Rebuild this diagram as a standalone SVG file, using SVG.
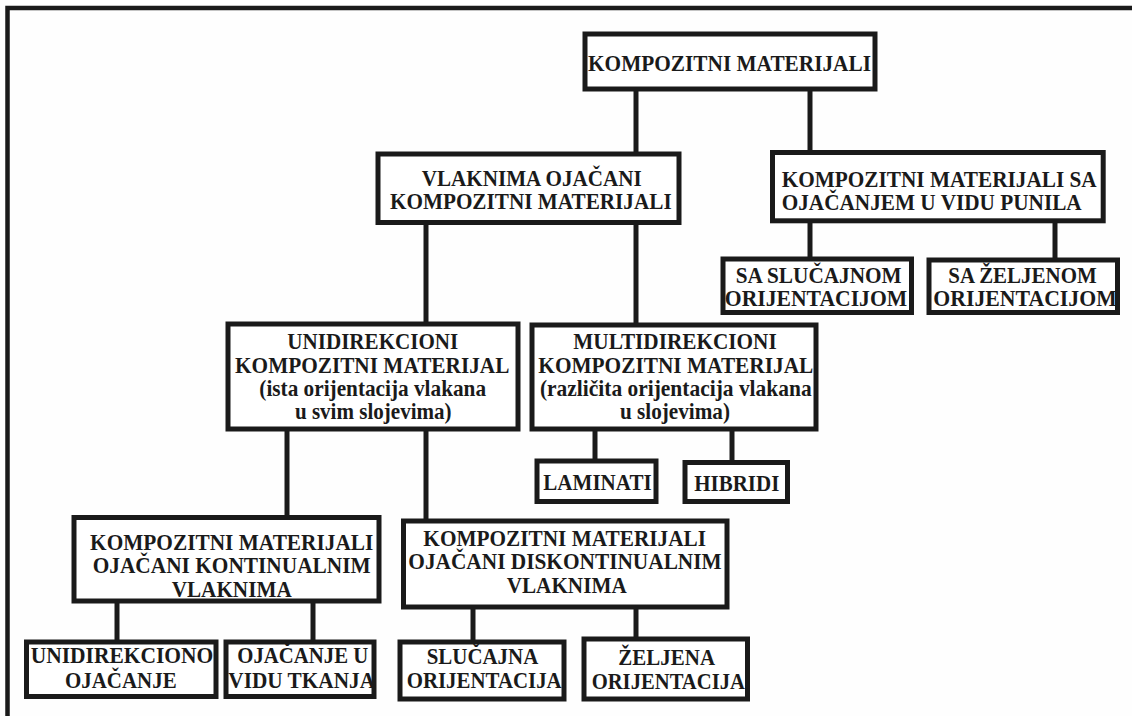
<svg xmlns="http://www.w3.org/2000/svg" width="1132" height="716" viewBox="0 0 1132 716">
<style>
.box{fill:#ffffff;stroke:#1a1a1a;stroke-width:5}
.con line{stroke:#1a1a1a;stroke-width:5}
text{font-family:"Liberation Serif","Times New Roman",serif;font-weight:bold;font-size:22.5px;fill:#1a1a1a;text-anchor:middle}
.l{text-anchor:start}
</style>
<rect x="0" y="0" width="1132" height="716" fill="#fefefe"/>
<path d="M7.5,716 V8 H1132" fill="none" stroke="#1a1a1a" stroke-width="4.5"/>
<g class="con">
<line x1="636" y1="91" x2="636" y2="153"/>
<line x1="810" y1="91" x2="810" y2="151"/>
<line x1="810" y1="222" x2="810" y2="258"/>
<line x1="1055" y1="222" x2="1055" y2="258"/>
<line x1="426" y1="224" x2="426" y2="323"/>
<line x1="636" y1="224" x2="636" y2="324"/>
<line x1="595" y1="430" x2="595" y2="460"/>
<line x1="732" y1="430" x2="732" y2="461"/>
<line x1="287" y1="430" x2="287" y2="516"/>
<line x1="426" y1="430" x2="426" y2="519"/>
<line x1="117" y1="602" x2="117" y2="640"/>
<line x1="313" y1="602" x2="313" y2="640"/>
<line x1="473" y1="608" x2="473" y2="640"/>
<line x1="636" y1="608" x2="636" y2="638"/>
</g>
<g id="n1">
<rect class="box" x="585" y="34" width="290" height="55"/>
<text x="729.5" y="71" textLength="283" lengthAdjust="spacingAndGlyphs">KOMPOZITNI MATERIJALI</text>
</g>
<g id="n2">
<rect class="box" x="378" y="154" width="301" height="68.5"/>
<text x="531.7" y="185.5" textLength="220" lengthAdjust="spacingAndGlyphs">VLAKNIMA OJAČANI</text>
<text x="530.8" y="208.8" textLength="281.7" lengthAdjust="spacingAndGlyphs">KOMPOZITNI MATERIJALI</text>
</g>
<g id="n3">
<rect class="box" x="772.5" y="152.5" width="330.7" height="68.3"/>
<text class="l" x="781.7" y="186.5" textLength="315" lengthAdjust="spacingAndGlyphs">KOMPOZITNI MATERIJALI SA</text>
<text class="l" x="781.7" y="209.8" textLength="300" lengthAdjust="spacingAndGlyphs">OJAČANJEM U VIDU PUNILA</text>
</g>
<g id="n3a">
<rect class="box" x="723" y="259" width="188.5" height="53.5"/>
<text x="818.7" y="283" textLength="166" lengthAdjust="spacingAndGlyphs">SA SLUČAJNOM</text>
<text x="816" y="306.3" textLength="182.4" lengthAdjust="spacingAndGlyphs">ORIJENTACIJOM</text>
</g>
<g id="n3b">
<rect class="box" x="929" y="260" width="188.5" height="52.5"/>
<text x="1022.5" y="283" textLength="148.4" lengthAdjust="spacingAndGlyphs">SA ŽELJENOM</text>
<text x="1025" y="306.3" textLength="183.4" lengthAdjust="spacingAndGlyphs">ORIJENTACIJOM</text>
</g>
<g id="n4">
<rect class="box" x="228" y="324" width="290" height="105"/>
<text x="372.8" y="349.3" textLength="171" lengthAdjust="spacingAndGlyphs">UNIDIREKCIONI</text>
<text x="372.2" y="372.7" textLength="274.3" lengthAdjust="spacingAndGlyphs">KOMPOZITNI MATERIJAL</text>
<text x="372.7" y="396" textLength="226.7" lengthAdjust="spacingAndGlyphs">(ista orijentacija vlakana</text>
<text x="373.3" y="419.3" textLength="156.7" lengthAdjust="spacingAndGlyphs">u svim slojevima)</text>
</g>
<g id="n5">
<rect class="box" x="532" y="325" width="284" height="104"/>
<text x="675" y="349.3" textLength="203.4" lengthAdjust="spacingAndGlyphs">MULTIDIREKCIONI</text>
<text x="675.8" y="372.7" textLength="275" lengthAdjust="spacingAndGlyphs">KOMPOZITNI MATERIJAL</text>
<text x="675.8" y="396" textLength="271.7" lengthAdjust="spacingAndGlyphs">(različita orijentacija vlakana</text>
<text x="675" y="419.3" textLength="110" lengthAdjust="spacingAndGlyphs">u slojevima)</text>
</g>
<g id="n6">
<rect class="box" x="537" y="461" width="119" height="40.5"/>
<text x="597.5" y="490" textLength="108.4" lengthAdjust="spacingAndGlyphs">LAMINATI</text>
</g>
<g id="n7">
<rect class="box" x="685" y="462.5" width="102.5" height="39"/>
<text x="736.8" y="490.5" textLength="85" lengthAdjust="spacingAndGlyphs">HIBRIDI</text>
</g>
<g id="n8">
<rect class="box" x="74" y="517.5" width="305" height="83.5"/>
<text x="231.7" y="550" textLength="283.3" lengthAdjust="spacingAndGlyphs">KOMPOZITNI MATERIJALI</text>
<text x="231.7" y="573.3" textLength="278" lengthAdjust="spacingAndGlyphs">OJAČANI KONTINUALNIM</text>
<text x="231.7" y="597" textLength="120" lengthAdjust="spacingAndGlyphs">VLAKNIMA</text>
</g>
<g id="n9">
<rect class="box" x="403.5" y="521" width="323.5" height="86"/>
<text x="564.7" y="546" textLength="282.7" lengthAdjust="spacingAndGlyphs">KOMPOZITNI MATERIJALI</text>
<text x="565" y="569.3" textLength="313.4" lengthAdjust="spacingAndGlyphs">OJAČANI DISKONTINUALNIM</text>
<text x="566.7" y="593.3" textLength="120" lengthAdjust="spacingAndGlyphs">VLAKNIMA</text>
</g>
<g id="n10">
<rect class="box" x="26.5" y="642" width="189.5" height="54.5"/>
<text x="122" y="663.3" textLength="182.6" lengthAdjust="spacingAndGlyphs">UNIDIREKCIONO</text>
<text x="120.8" y="688.3" textLength="111.7" lengthAdjust="spacingAndGlyphs">OJAČANJE</text>
</g>
<g id="n11">
<rect class="box" x="226" y="642" width="148" height="54.5"/>
<text x="302.8" y="663.3" textLength="131" lengthAdjust="spacingAndGlyphs">OJAČANJE U</text>
<text x="301.7" y="688.3" textLength="146.7" lengthAdjust="spacingAndGlyphs">VIDU TKANJA</text>
</g>
<g id="n12">
<rect class="box" x="400" y="642" width="164" height="57"/>
<text x="482.5" y="664" textLength="111.6" lengthAdjust="spacingAndGlyphs">SLUČAJNA</text>
<text x="484.2" y="688.3" textLength="155" lengthAdjust="spacingAndGlyphs">ORIJENTACIJA</text>
</g>
<g id="n13">
<rect class="box" x="584" y="639" width="163.5" height="60"/>
<text x="666.7" y="665" textLength="96.7" lengthAdjust="spacingAndGlyphs">ŽELJENA</text>
<text x="668.3" y="688.5" textLength="153.3" lengthAdjust="spacingAndGlyphs">ORIJENTACIJA</text>
</g>
</svg>
